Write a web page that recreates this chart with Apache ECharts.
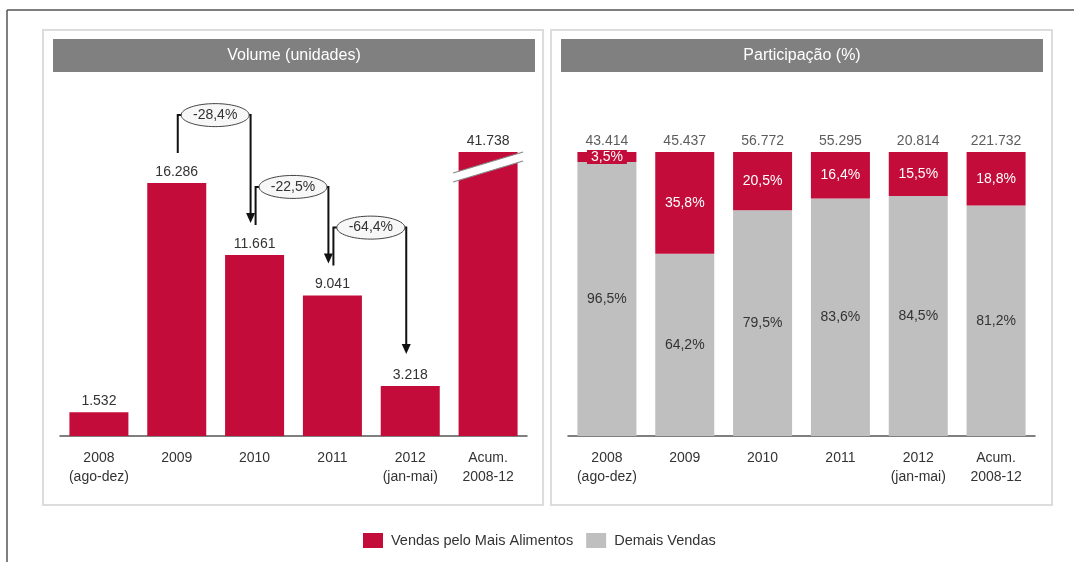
<!DOCTYPE html>
<html>
<head>
<meta charset="utf-8">
<script src="https://cdn.jsdelivr.net/npm/echarts@6/dist/echarts.min.js"></script>
<style>
html, body { margin: 0; padding: 0; background: #fff; }
#main { width: 1074px; height: 562px; }
</style>
</head>
<body>
<div id="main"></div>
<script>
const categories = ['2008\n(ago-dez)', '2009', '2010', '2011', '2012\n(jan-mai)', 'Acum.\n2008-12'];
const volume = [1532, 16286, 11661, 9041, 3218, 41738];
const totalSales = [43414, 45437, 56772, 55295, 20814, 221732];
const sharePct = [3.5, 35.8, 20.5, 16.4, 15.5, 18.8];
const otherPct = [96.5, 64.2, 79.5, 83.6, 84.5, 81.2];
const changeLabels = ['-28,4%', '-22,5%', '-64,4%'];
// eixo cortado: a barra acumulada fica truncada no topo
const volumeAxisMax = 18290;

const RED = '#c30c3a';
const GRAY = '#bfbfbf';
const FONT = '"Liberation Sans", Arial, sans-serif';

const fmtInt = v => String(v).replace(/\B(?=(\d{3})+(?!\d))/g, '.');
const fmtPct = v => v.toFixed(1).replace('.', ',') + '%';

const chart = echarts.init(document.getElementById('main'));

const txt = (id, x, y, text, color, size) => ({
  type: 'text', id: id, x: x, y: y, z: 20,
  style: {
    text: text, fill: color, font: size + 'px ' + FONT,
    align: 'center', verticalAlign: 'middle',
    textAlign: 'center', textVerticalAlign: 'middle'
  }
});

const staticGraphic = [
  { type: 'line', id: 'frameTop', shape: { x1: 7, y1: 10, x2: 1074, y2: 10 }, style: { stroke: '#555', lineWidth: 1.5 } },
  { type: 'line', id: 'frameLeft', shape: { x1: 7, y1: 10, x2: 7, y2: 562 }, style: { stroke: '#555', lineWidth: 1.5 } },
  { type: 'rect', id: 'panelL', z: -1, shape: { x: 43, y: 30, width: 500, height: 475 }, style: { fill: '#fff', stroke: '#dcdcdc', lineWidth: 2 } },
  { type: 'rect', id: 'panelR', z: -1, shape: { x: 551, y: 30, width: 501, height: 475 }, style: { fill: '#fff', stroke: '#dcdcdc', lineWidth: 2 } },
  { type: 'rect', id: 'headL', shape: { x: 53, y: 39, width: 482, height: 33 }, style: { fill: '#808080' } },
  { type: 'rect', id: 'headR', shape: { x: 561, y: 39, width: 482, height: 33 }, style: { fill: '#808080' } },
  txt('titleL', 294, 56, 'Volume (unidades)', '#fff', 16),
  txt('titleR', 802, 56, 'Participação (%)', '#fff', 16)
];

const option = {
  animation: false,
  textStyle: { fontFamily: FONT },
  legend: {
    data: ['Vendas pelo Mais Alimentos', 'Demais Vendas'],
    left: 363,
    top: 533,
    padding: 0,
    icon: 'rect',
    itemWidth: 20,
    itemHeight: 15,
    itemGap: 13,
    selectedMode: false,
    textStyle: { fontSize: 14.5, color: '#333', padding: [0, 0, 0, 3] }
  },
  grid: [
    { left: 60, top: 152, width: 467, height: 284 },
    { left: 568, top: 152, width: 467, height: 284 }
  ],
  xAxis: [0, 1].map(i => ({
    type: 'category',
    gridIndex: i,
    data: categories,
    axisTick: { show: false },
    axisLine: { lineStyle: { color: '#555', width: 1.5 } },
    axisLabel: { interval: 0, color: '#333', fontSize: 14, lineHeight: 19, margin: 13 }
  })),
  yAxis: [
    { type: 'value', gridIndex: 0, min: 0, max: volumeAxisMax, show: false },
    { type: 'value', gridIndex: 1, min: 0, max: 100, show: false }
  ],
  series: [
    {
      name: 'Vendas pelo Mais Alimentos',
      type: 'bar',
      xAxisIndex: 0,
      yAxisIndex: 0,
      data: volume,
      barWidth: 59,
      clip: true,
      itemStyle: { color: RED },
      label: {
        show: true, position: 'top', distance: 4,
        color: '#333', fontSize: 14,
        formatter: p => fmtInt(p.value)
      }
    },
    {
      name: 'Demais Vendas',
      type: 'bar',
      xAxisIndex: 1,
      yAxisIndex: 1,
      stack: 'part',
      data: otherPct,
      barWidth: 59,
      itemStyle: { color: GRAY },
      label: { show: true, position: 'inside', color: '#333', fontSize: 14, formatter: p => fmtPct(p.value) }
    },
    {
      name: 'Vendas pelo Mais Alimentos',
      type: 'bar',
      xAxisIndex: 1,
      yAxisIndex: 1,
      stack: 'part',
      data: sharePct.map((v, i) => i === 0
        ? { value: v, label: { backgroundColor: RED, padding: [0, 4], lineHeight: 14 } }
        : v),
      barWidth: 59,
      itemStyle: { color: RED },
      label: { show: true, position: 'inside', color: '#fff', fontSize: 14, formatter: p => fmtPct(p.value) }
    },
    {
      name: 'total',
      type: 'scatter',
      xAxisIndex: 1,
      yAxisIndex: 1,
      symbolSize: 0,
      silent: true,
      data: sharePct.map((v, i) => v + otherPct[i]),
      label: {
        show: true, position: 'top', distance: 4,
        color: '#333', fontSize: 14,
        formatter: p => fmtInt(totalSales[p.dataIndex])
      }
    }
  ],
  graphic: { elements: staticGraphic }
};

chart.setOption(option);

// setas de variação e marca de corte, posicionadas pela escala do gráfico
const extra = [];
for (let k = 0; k < changeLabels.length; k++) {
  const i = k + 1;
  const a = chart.convertToPixel({ seriesIndex: 0 }, [i, volume[i]]);
  const b = chart.convertToPixel({ seriesIndex: 0 }, [i + 1, volume[i + 1]]);
  const xL = a[0] + 1, xR = b[0] - 4;
  const yStart = a[1] - 30, yMid = a[1] - 68, yTip = b[1] - 32;
  extra.push({
    type: 'polyline', id: 'br' + k, z: 15,
    shape: { points: [[xL, yStart], [xL, yMid], [xR, yMid], [xR, yTip - 8]] },
    style: { stroke: '#111', lineWidth: 2, fill: null }
  });
  extra.push({
    type: 'polygon', id: 'ah' + k, z: 15,
    shape: { points: [[xR - 4.5, yTip - 10], [xR + 4.5, yTip - 10], [xR, yTip]] },
    style: { fill: '#111' }
  });
  extra.push({
    type: 'ellipse', id: 'el' + k, z: 16,
    shape: { cx: (xL + xR) / 2 + 1, cy: yMid, rx: 34, ry: 11.5 },
    style: { fill: '#f7f7f7', stroke: '#444', lineWidth: 1 }
  });
  extra.push(txt('ct' + k, (xL + xR) / 2 + 1, yMid, changeLabels[k], '#333', 14));
}

const last = volume.length - 1;
const cx = chart.convertToPixel({ seriesIndex: 0 }, [last, 0])[0];
const yc = chart.convertToPixel({ yAxisIndex: 0 }, volumeAxisMax) + 15;
const L = cx - 35, R = cx + 35;
extra.push({
  type: 'polygon', id: 'cut', z: 15,
  shape: { points: [[L, yc + 6], [R, yc - 15], [R, yc - 6], [L, yc + 15]] },
  style: { fill: '#fff' }
});
extra.push({
  type: 'line', id: 'cutA', z: 16,
  shape: { x1: L, y1: yc + 6, x2: R, y2: yc - 15 }, style: { stroke: '#888', lineWidth: 1.2 }
});
extra.push({
  type: 'line', id: 'cutB', z: 16,
  shape: { x1: L, y1: yc + 15, x2: R, y2: yc - 6 }, style: { stroke: '#888', lineWidth: 1.2 }
});

chart.setOption({ graphic: { elements: staticGraphic.concat(extra) } });
</script>
</body>
</html>
